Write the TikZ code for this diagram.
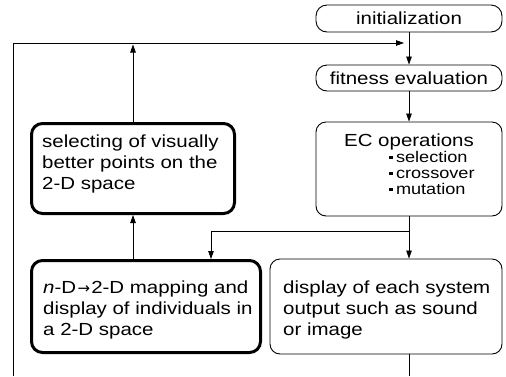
\documentclass[tikz,border=0pt]{standalone}
\usepackage{fontspec}
\setmainfont{Liberation Sans}[FakeStretch=1.17]
\newfontfamily\symfont{DejaVu Sans}
\usetikzlibrary{arrows.meta}
\newcommand{\itemfont}{\fontsize{15.5}{17}\selectfont}
\newcommand{\itembullet}{\raisebox{3pt}{\rule{3.3pt}{3.3pt}}\hspace{3.5pt}}
\begin{document}
\begin{tikzpicture}[x=1pt,y=-1pt,
  every node/.style={font=\fontsize{17.5}{21}\selectfont, inner sep=0pt},
  thinbox/.style={draw, line width=0.9pt, rounded corners=10pt},
  thickbox/.style={draw, line width=3pt, rounded corners=11pt},
  boxtxt/.style={anchor=base west, align=left},
  itemtxt/.style={anchor=base west},
  arr/.style={line width=0.8pt, -{Triangle[length=8pt,width=5.5pt]}},
  ln/.style={line width=0.8pt}]
\useasboundingbox (0,0) rectangle (506,376);
% boxes
\node[thinbox, minimum width=186pt, minimum height=27pt, rounded corners=11pt] (init) at (409,18.5) {initialization};
\node[thinbox, minimum width=186pt, minimum height=26pt, rounded corners=11pt] (fit) at (409,78) {fitness evaluation};
\node[thinbox, minimum width=186pt, minimum height=94pt] (ec) at (409,169) {};
\node[anchor=base] (ecT) at (409,146) {EC operations};
\node[itemtxt] (ec1) at (389,162) {\itemfont\itembullet selection};
\node[itemtxt] (ec2) at (389,178) {\itemfont\itembullet crossover};
\node[itemtxt] (ec3) at (389,194) {\itemfont\itembullet mutation};
\node[thickbox, minimum width=203pt, minimum height=90pt] (sel) at (133,168.5) {};
\node[boxtxt] (selT) at (42,189) {selecting of visually\\better points on the\\2-D space};
\node[thickbox, minimum width=229pt, minimum height=92pt] (map) at (146,306.5) {};
\node[boxtxt] (mapT) at (43,335)
  {\textit{n}-D\hspace{1.5pt}{\symfont\fontsize{15}{17}\selectfont →}\hspace{1pt}2-D mapping and\\display of individuals in\\a 2-D space};
\node[thinbox, minimum width=232pt, minimum height=95pt] (disp) at (386,306.5) {};
\node[boxtxt] (dispT) at (283,335) {display of each system\\output such as sound\\or image};
% connector coordinates
\coordinate (botL) at (13,376);
\coordinate (fbTL) at (13,43);
\coordinate (fbEnd) at (404,43);
\coordinate (upTop) at (133,44.5);
\coordinate (brR) at (409,231);
\coordinate (brL) at (211,231);
\coordinate (botR) at (409,376);
% connectors
\draw[arr] (init) -- (fit);
\draw[arr] (fit) -- (ec);
\draw[arr] (botL) -- (fbTL) -- (fbEnd);
\draw[arr] (sel.north) -- (upTop);
\draw[arr] (ec.south) -- (ec.south |- disp.north);
\draw[arr] (brR) -- (brL) -- (brL |- map.north);
\draw[arr] (map.north -| sel.south) -- (sel.south);
\draw[ln] (disp.south -| ec.south) -- (botR);
\end{tikzpicture}
\end{document}
